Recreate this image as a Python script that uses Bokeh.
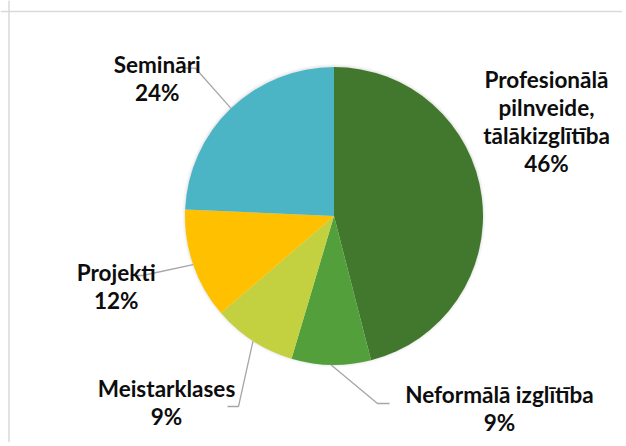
import math
from bokeh.plotting import figure
from bokeh.models import Range1d, ColumnDataSource, Span
from bokeh.core.properties import value
from bokeh.embed import file_html
from bokeh.resources import INLINE

# ---- data ----
categories = ["Profesionālā\npilnveide,\ntālākizglītība", "Neformālā izglītība",
              "Meistarklases", "Projekti", "Semināri"]
shares = [46.0, 8.6, 9.1, 12.0, 24.3]
colors = ["#41782E", "#529F3B", "#C3D140", "#FFC000", "#4BB4C5"]

# ---- layout (page pixel positions) ----
W, H = 622, 442
label_anchor = [(546, 79.3), (499, 394), (166, 387.7), (115.7, 271.7), (156.7, 64)]
leader_elbow = [None, ((377, 403), (389, 403)), ((238, 406), (227, 406)),
                ((142, 275), (130, 275)), ((195, 67.7), (182, 67.7))]
line_step = 28
center_page = (333.5, 215.5)
R = 149


def X(px):
    return px


def Y(py):
    return H - py


p = figure(width=W, height=H, output_backend="svg", toolbar_location=None,
           x_range=Range1d(0, W), y_range=Range1d(0, H), min_border=0)
p.axis.visible = False
p.grid.visible = False
p.outline_line_color = None
p.background_fill_color = "white"
p.border_fill_color = "white"

# chart area border (top and left visible)
p.add_layout(Span(location=Y(11), dimension="width", line_color="#D9D9D9", line_width=1.5))
p.add_layout(Span(location=X(8.5), dimension="height", line_color="#D9D9D9", line_width=1.5))

cx, cy = X(center_page[0]), Y(center_page[1])

# soft shadow
for k, a in [(3, 0.03), (2, 0.05), (1, 0.08)]:
    p.circle(x=[cx], y=[cy + 0.5], radius=R + k, fill_color="#808080", fill_alpha=a, line_color=None)

total = sum(shares)
starts, ends, mids = [], [], []
cum = 0.0
for s in shares:
    t1 = cum / total * 2 * math.pi
    cum += s
    t2 = cum / total * 2 * math.pi
    starts.append(math.pi / 2 - t2)
    ends.append(math.pi / 2 - t1)
    mids.append((t1 + t2) / 2)

src = ColumnDataSource(dict(start=starts, end=ends, color=colors))
p.wedge(x=cx, y=cy, radius=R, start_angle="start", end_angle="end",
        direction="anticlock", fill_color="color", line_color=None, source=src)

# leader lines
xs, ys = [], []
for i, el in enumerate(leader_elbow):
    if el is None:
        continue
    th = mids[i]
    rx = cx + R * math.sin(th)
    ry = cy + R * math.cos(th)
    (ex, ey), (fx, fy) = el
    xs.append([rx, X(ex), X(fx)])
    ys.append([ry, Y(ey), Y(fy)])
p.multi_line(xs=xs, ys=ys, line_color="#A6A6A6", line_width=1.3)

# labels
tx, ty, tt = [], [], []
for i, cat in enumerate(categories):
    lines = cat.split("\n") + [f"{round(shares[i] / total * 100)}%"]
    ax, ay = label_anchor[i]
    for j, ln in enumerate(lines):
        tx.append(X(ax))
        ty.append(Y(ay + j * line_step))
        tt.append(ln)
p.text(x=tx, y=ty, text=tt, text_font=value("Lato"), text_font_style="bold",
       text_font_size="22.5px", text_align="center", text_baseline="alphabetic",
       text_color="#0D0D0D")

open("out.html", "w").write(file_html(p, INLINE))
